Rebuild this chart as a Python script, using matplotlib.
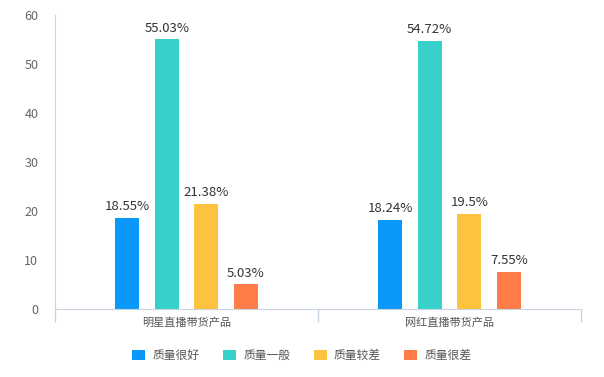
import numpy as np
import matplotlib.pyplot as plt
from matplotlib.patches import Patch

plt.rcParams['font.family'] = ['Noto Sans CJK SC', 'DejaVu Sans']

categories = ['明星直播带货产品', '网红直播带货产品']
series_names = ['质量很好', '质量一般', '质量较差', '质量很差']
series_values = [
    [18.55, 18.24],
    [55.03, 54.72],
    [21.38, 19.5],
    [5.03, 7.55],
]
value_labels = [
    ['18.55%', '18.24%'],
    ['55.03%', '54.72%'],
    ['21.38%', '19.5%'],
    ['5.03%', '7.55%'],
]
colors = ['#0a98fa', '#38d0cb', '#fec33e', '#ff7b47']

fig = plt.figure(figsize=(6.04, 3.77), dpi=100)
ax = fig.add_axes([0.091, 0.180, 0.871, 0.780])

x = np.arange(len(categories))
pitch = 0.15
width = 0.091
for i, (vals, labs) in enumerate(zip(series_values, value_labels)):
    pos = x + (i - 1.5) * pitch
    ax.bar(pos, vals, width=width, color=colors[i], label=series_names[i], zorder=2)
    for px, v, lab in zip(pos, vals, labs):
        ax.text(px, v + 1.0, lab, ha='center', va='bottom', fontsize=9.5, color='#333333')

ax.set_xlim(-0.5, 1.5)
ax.set_ylim(0, 60)
ax.set_yticks(range(0, 61, 10))

# bordi delle categorie come tick, etichette al centro
ax.set_xticks([-0.5, 0.5, 1.5])
ax.set_xticklabels([])
ax.set_xticks(x, minor=True)
ax.set_xticklabels(categories, minor=True)
ax.tick_params(axis='x', which='major', length=9, color='#c9d4e2', width=1)
ax.tick_params(axis='x', which='minor', length=0, labelsize=8, colors='#555555', pad=6)
ax.tick_params(axis='y', length=0, labelsize=9, colors='#666666', pad=12)

for s in ['top', 'right']:
    ax.spines[s].set_visible(False)
ax.spines['left'].set_color('#c9d4e2')
ax.spines['bottom'].set_color('#c9d4e2')

handles = [Patch(facecolor=c, label=n) for c, n in zip(colors, series_names)]
fig.legend(handles=handles, loc='center', bbox_to_anchor=(0.5, 0.057), ncol=4,
           frameon=False, fontsize=8.5, handlelength=1.1, handleheight=0.9,
           columnspacing=2.0, handletextpad=0.6, labelcolor='#555555')

fig.savefig('out.png', dpi=100)
